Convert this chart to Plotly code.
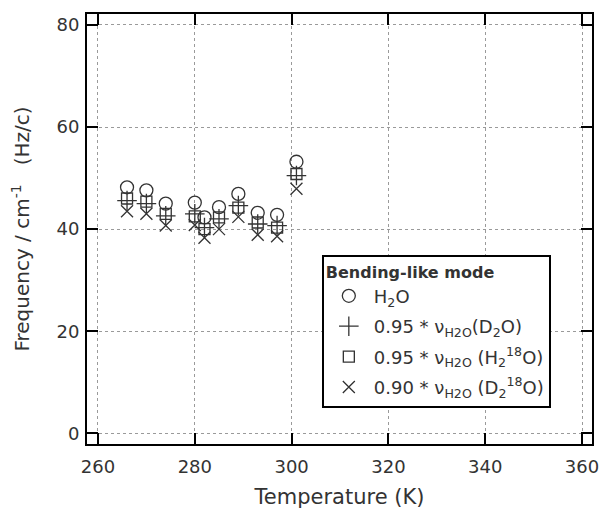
import plotly.graph_objects as go

temperature = [266, 270, 274, 280, 282, 285, 289, 293, 297, 301]
h2o = [48.2, 47.6, 45.0, 45.2, 42.3, 44.3, 46.9, 43.2, 42.8, 53.2]
d2o_scaled = [45.6, 45.0, 42.6, 43.0, 40.3, 42.0, 44.6, 41.0, 40.7, 50.5]
h2_18o_scaled = [46.0, 45.4, 43.0, 42.5, 40.0, 42.3, 44.2, 41.3, 40.3, 50.8]
d2_18o_scaled = [43.5, 43.0, 40.7, 40.8, 38.3, 40.0, 42.4, 38.9, 38.6, 47.9]

series_names = [
    "H<sub>2</sub>O",
    "0.95 * ν<sub>H2O</sub>(D<sub>2</sub>O)",
    "0.95 * ν<sub>H2O</sub> (H<sub>2</sub><sup>18</sup>O)",
    "0.90 * ν<sub>H2O</sub> (D<sub>2</sub><sup>18</sup>O)",
]
x_ticks = [260, 280, 300, 320, 340, 360]
y_ticks = [0, 20, 40, 60, 80]

ink = "#333333"
FONT = "DejaVu Sans"

fig = go.Figure()
specs = [
    (h2o, "circle-open", 13),
    (d2o_scaled, "cross-thin-open", 14),
    (h2_18o_scaled, "square-open", 11),
    (d2_18o_scaled, "x-thin-open", 12),
]
for i, ((vals, sym, size), name) in enumerate(zip(specs, series_names)):
    fig.add_trace(go.Scatter(
        x=temperature, y=vals, mode="markers", name=name,
        legendgroup=f"g{i}",
        marker=dict(symbol=sym, size=size, color=ink,
                    line=dict(color=ink, width=1.3)),
    ))

axis_common = dict(
    showline=True, linecolor="black", linewidth=2, mirror="ticks",
    ticks="inside", ticklen=11, tickwidth=2, tickcolor="black",
    showgrid=True, gridcolor="#9a9a9a", griddash="dot", gridwidth=1,
    zeroline=False, automargin=False,
    tickfont=dict(family=FONT, size=18, color="#333"),
)

fig.update_layout(
    width=601, height=509,
    margin=dict(l=87, r=9, t=14, b=65),
    paper_bgcolor="white", plot_bgcolor="white",
    font=dict(family=FONT, color="#333"),
    xaxis=dict(range=[257.73, 362.06], tickvals=x_ticks, ticklabelstandoff=5,
               title=dict(text="Temperature (K)", font=dict(family=FONT, size=21), standoff=18),
               **axis_common),
    yaxis=dict(range=[-2.1, 82.15], tickvals=y_ticks, ticklabelstandoff=2,
               title=dict(text="Frequency / cm<sup>-1</sup>   (Hz/c)", font=dict(family=FONT, size=20), standoff=21),
               **axis_common),
    legend=dict(
        title=dict(text="<b>Bending-like mode</b>", font=dict(family=FONT, size=16)),
        font=dict(family=FONT, size=18, color="#333"),
        x=0.465, y=0.44, xanchor="left", yanchor="top",
        bgcolor="white", bordercolor="black", borderwidth=2,
        tracegroupgap=4, itemwidth=40,
    ),
)

fig.write_html("out.html")
